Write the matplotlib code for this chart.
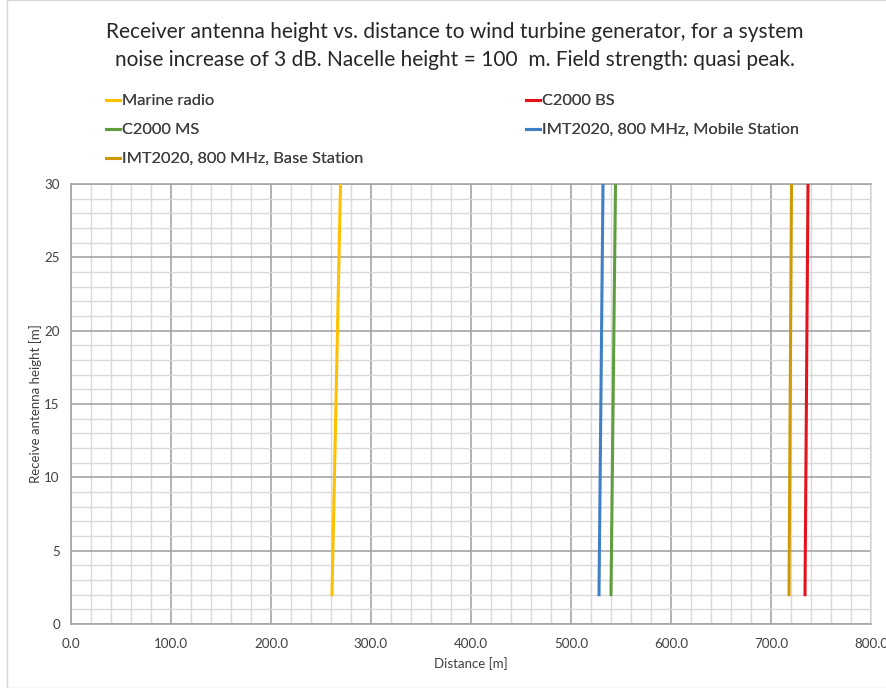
import matplotlib
matplotlib.use("Agg")
import matplotlib.pyplot as plt
from matplotlib.patches import Rectangle
from matplotlib.ticker import MultipleLocator, FormatStrFormatter

plt.rcParams["font.family"] = ["Lato", "DejaVu Sans"]

# receiver height [m] at the two ends of each curve
heights = [2, 30]

# distance [m] at which the system noise increase reaches 3 dB
marine_radio = [261, 269.5]
c2000_bs = [734, 737]
c2000_ms = [540, 544.5]
imt_ms = [528, 532]
imt_bs = [718, 720.5]

series = [
    ("Marine radio", marine_radio, "#FFC000"),
    ("C2000 BS", c2000_bs, "#E3121B"),
    ("C2000 MS", c2000_ms, "#5F9E3F"),
    ("IMT2020, 800 MHz, Mobile Station", imt_ms, "#3F7FC8"),
    ("IMT2020, 800 MHz, Base Station", imt_bs, "#CC9A06"),
]

fig = plt.figure(figsize=(8.87, 6.88), dpi=100)
ax = fig.add_axes([71 / 887, 64 / 688, 800 / 887, 440 / 688])

handles = {}
for name, dist, color in series:
    (ln,) = ax.plot(dist, heights, color=color, linewidth=2.2, label=name, zorder=3)
    handles[name] = ln

ax.set_xlim(0, 800)
ax.set_ylim(0, 30)
ax.xaxis.set_major_locator(MultipleLocator(100))
ax.xaxis.set_minor_locator(MultipleLocator(20))
ax.yaxis.set_major_locator(MultipleLocator(5))
ax.yaxis.set_minor_locator(MultipleLocator(1))
ax.xaxis.set_major_formatter(FormatStrFormatter("%.1f"))
ax.grid(True, which="major", color="#A6A6A6", linewidth=1.2)
ax.grid(True, which="minor", color="#D9D9D9", linewidth=1.0)
ax.set_axisbelow(True)
ax.tick_params(which="both", length=0, labelsize=9.6, colors="#404040")
ax.tick_params(axis="x", pad=10)
ax.tick_params(axis="y", pad=8)
for side, spine in ax.spines.items():
    spine.set_color("#A6A6A6")
    spine.set_linewidth(1.2)
ax.spines["right"].set_color("#D9D9D9")

ax.set_xlabel("Distance [m]", fontsize=9.5, color="#404040", labelpad=5)
ax.set_ylabel("Receive antenna height [m]", fontsize=9.5, color="#404040", labelpad=2)

fig.text(
    0.513, 0.933,
    "Receiver antenna height vs. distance to wind turbine generator, for a system\n"
    "noise increase of 3 dB. Nacelle height = 100  m. Field strength: quasi peak.",
    ha="center", va="center", fontsize=15, color="#262626", linespacing=1.45,
)

# two legend columns, each anchored at its own left edge
legend_cols = [
    (["Marine radio", "C2000 MS", "IMT2020, 800 MHz, Base Station"], 106),
    (["C2000 BS", "IMT2020, 800 MHz, Mobile Station"], 526),
]
for names, x_px in legend_cols:
    leg = fig.legend(
        [handles[n] for n in names], names,
        loc="upper left", bbox_to_anchor=(x_px / 887, 1 - 94 / 688),
        frameon=False, fontsize=11.8, handlelength=0.85, handletextpad=0.15,
        labelspacing=0.88, labelcolor="#404040", borderpad=0, borderaxespad=0,
    )
    fig.add_artist(leg)

fig.patches.append(Rectangle((7 / 887, 0), 1, 1, transform=fig.transFigure,
                             fill=False, edgecolor="#D9D9D9", linewidth=1))

fig.savefig("out.png", dpi=100)
